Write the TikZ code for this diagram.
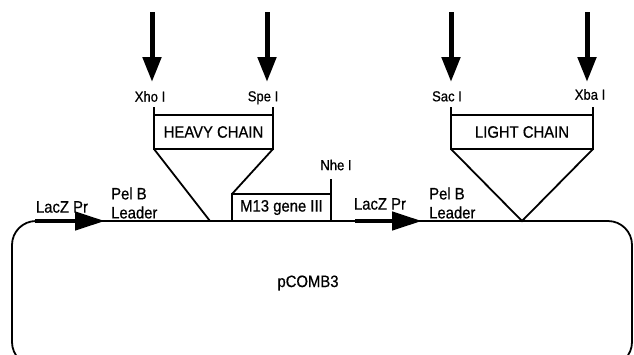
\documentclass[tikz,border=0pt]{standalone}
\usepackage{fontspec}
\setmainfont{Liberation Sans}[FakeStretch=0.9, FakeBold=0.6]
\usetikzlibrary{arrows.meta,positioning}

\begin{document}
\begin{tikzpicture}[
    x=1pt, y=-1pt,
    every node/.style={font=\fontsize{16.5}{19}\selectfont, inner sep=0pt},
    seq/.style={line width=1.8pt},
    insert/.style={draw, rectangle, line width=1.8pt, outer sep=0pt, minimum width=119pt, minimum height=34pt},
    site/.style={font=\fontsize{14.5}{16}\selectfont},
    cut/.style={line width=5pt, -{Triangle[length=25pt,width=18pt]}},
    promoter/.style={line width=4.5pt, -{Triangle[length=30pt,width=18pt]}}
]
\useasboundingbox (0,0) rectangle (634,354);
\clip (0,0) rectangle (634,354);

% --- Vector backbone ---
\draw[seq, rounded corners=24pt] (12,221) rectangle (632,366);
\node (vec) at (308,283) {pCOMB3};

% --- Promoters and leaders ---
\coordinate (lacAs) at (35,221);
\coordinate (lacAe) at (105,221);
\coordinate (lacBs) at (355,221);
\coordinate (lacBe) at (422,221);
\draw[promoter] (lacAs) -- (lacAe);
\draw[promoter] (lacBs) -- (lacBe);
\node (lacA) at (62,207) {LacZ Pr};
\node (lacB) at (380,204) {LacZ Pr};
\node[align=left, anchor=west] (pelA) at (111,203) {Pel B\\Leader};
\node[align=left, anchor=west] (pelB) at (429,203) {Pel B\\Leader};

% --- Inserts ---
\node[insert] (heavy) at (213.5,132) {HEAVY CHAIN};
\node[insert, minimum width=142pt] (light) at (522,132) {LIGHT CHAIN};
\node[insert, minimum width=99pt, minimum height=27pt] (m13) at (281.5,207.5) {M13 gene III};

\draw[seq] (heavy.north west) -- ++(0,-8);
\draw[seq] (heavy.north east) -- ++(0,-8);
\draw[seq] (light.north west) -- ++(0,-8);
\draw[seq] (light.north east) -- ++(0,-8);
\draw[seq] (m13.north east) -- ++(0,-15);

% --- Insertion points on the vector ---
\coordinate (hvjoin) at (210,221);
\coordinate (ltjoin) at (522,221);
\draw[seq] (heavy.south west) -- (hvjoin);
\draw[seq] (heavy.south east) -- (m13.north west);
\draw[seq] (light.south west) -- (ltjoin) -- (light.south east);

% --- Restriction sites ---
\coordinate (xhotop) at (152,12);  \coordinate (xhotip) at (152,82);
\coordinate (spetop) at (267,12);  \coordinate (spetip) at (267,82);
\coordinate (sactop) at (451,12);  \coordinate (sactip) at (451,82);
\coordinate (xbatop) at (587,12);  \coordinate (xbatip) at (587,82);
\draw[cut] (xhotop) -- (xhotip);
\draw[cut] (spetop) -- (spetip);
\draw[cut] (sactop) -- (sactip);
\draw[cut] (xbatop) -- (xbatip);
\node[site, below=9pt of xhotip, xshift=-2pt] (xho) {Xho I};
\node[site, below=9pt of spetip, xshift=-4pt] (spe) {Spe I};
\node[site, below=9pt of sactip, xshift=-4pt] (sac) {Sac I};
\node[site, below=7pt of xbatip, xshift=3pt] (xba) {Xba I};
\node[site] (nhe) at (336,165) {Nhe I};
\end{tikzpicture}
\end{document}
